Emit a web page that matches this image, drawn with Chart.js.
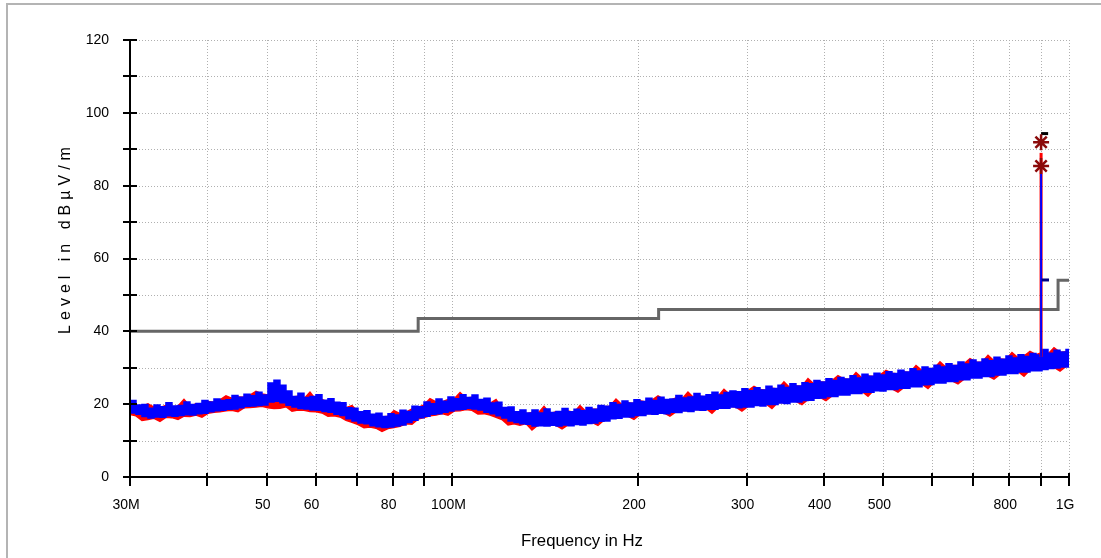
<!DOCTYPE html>
<html>
<head>
<meta charset="utf-8">
<script src="https://cdn.jsdelivr.net/npm/chart.js@4.4.1/dist/chart.umd.min.js"></script>
<style>
  html, body { margin: 0; padding: 0; background: #ffffff; }
  #wrap { width: 1101px; height: 558px; position: relative; }
</style>
</head>
<body>
<div id="wrap"><canvas id="c" width="1101" height="558"></canvas></div>
<script>
// ---------- DATA ----------
const freqMHz = [30.0,30.68,31.37,32.08,32.81,33.55,34.31,35.09,35.89,36.70,37.53,38.38,39.25,40.14,41.05,41.98,42.93,43.91,44.90,45.92,46.96,48.02,49.11,50.22,51.36,52.52,53.71,54.93,56.17,57.45,58.75,60.08,61.44,62.83,64.26,65.71,67.20,68.73,70.29,71.88,73.51,75.17,76.88,78.62,80.40,82.22,84.09,85.99,87.94,89.94,91.97,94.06,96.19,98.37,100.6,102.9,105.2,107.6,110.0,112.5,115.1,117.7,120.3,123.1,125.9,128.7,131.6,134.6,137.7,140.8,144.0,147.2,150.6,154.0,157.5,161.0,164.7,168.4,172.2,176.1,180.1,184.2,188.4,192.6,197.0,201.4,206.0,210.7,215.5,220.4,225.3,230.4,235.7,241.0,246.5,252.1,257.8,263.6,269.6,275.7,281.9,288.3,294.8,301.5,308.4,315.4,322.5,329.8,337.3,344.9,352.7,360.7,368.9,377.3,385.8,394.6,403.5,412.7,422.0,431.6,441.4,451.4,461.6,472.1,482.8,493.7,504.9,516.3,528.0,540.0,552.2,564.8,577.6,590.6,604.0,617.7,631.7,646.0,660.6,675.6,690.9,706.6,722.6,739.0,755.7,772.8,790.3,808.2,826.6,845.3,864.5,884.1,904.1,924.6,945.5,967.0,988.9,1000];

const blueHi = [21.0,19.8,19.9,18.9,19.8,19.3,20.4,19.5,19.6,20.6,19.9,20.2,21.0,20.6,21.4,21.0,21.2,22.4,21.9,22.7,22.3,23.3,22.5,25.8,26.6,25.2,23.6,22.1,23.0,21.8,22.1,22.6,21.1,21.5,20.5,20.4,19.0,18.9,17.9,18.2,17.2,17.5,16.6,17.4,17.0,18.3,18.0,19.4,19.3,20.6,20.1,21.4,20.8,22.0,21.5,22.6,21.8,22.5,21.3,21.6,20.3,20.5,19.1,19.2,17.9,18.4,17.6,18.4,17.6,18.7,17.7,18.0,18.8,17.9,18.6,18.2,19.1,18.6,19.6,19.4,20.4,19.9,20.9,20.3,21.2,20.7,21.6,21.0,21.9,21.3,21.4,22.4,21.7,22.0,22.9,22.2,22.6,23.3,22.5,23.2,23.6,23.4,24.2,23.7,24.5,23.9,24.9,24.3,25.2,24.6,25.6,25.0,25.9,25.6,26.5,26.1,27.0,26.5,27.3,26.9,27.8,27.2,28.2,27.7,28.5,28.0,28.9,28.4,29.3,28.8,29.7,29.1,30.2,29.8,30.7,30.2,31.1,30.6,31.6,31.0,32.1,31.5,32.4,31.9,32.9,32.3,33.2,32.7,33.6,33.1,33.9,33.5,35.0,34.0,34.8,34.3,35.0,34.6];
const blueLo = [17.6,17.2,16.6,16.2,16.5,16.4,16.8,16.7,16.9,17.1,17.0,17.4,17.5,17.9,18.2,18.3,18.6,18.7,19.0,19.4,19.5,19.6,19.8,20.6,20.8,20.4,19.7,19.2,18.8,18.7,18.4,18.3,18.0,17.8,17.2,16.9,16.0,15.4,14.8,14.6,14.1,13.8,13.6,13.7,14.0,14.3,15.0,15.6,16.3,16.7,17.2,17.4,17.8,18.1,18.5,18.6,18.9,18.7,18.4,17.8,17.4,16.8,16.2,15.4,15.0,14.6,14.5,14.0,14.1,14.0,14.2,14.0,14.3,14.1,14.4,14.3,14.7,14.8,15.3,15.4,16.0,16.1,16.5,16.5,16.9,16.9,17.3,17.2,17.5,17.4,17.8,17.7,18.1,18.0,18.4,18.3,18.6,18.6,18.9,18.9,19.2,19.0,19.2,19.2,19.6,19.5,19.9,19.9,20.3,20.2,20.6,20.6,21.0,21.1,21.6,21.7,22.1,22.1,22.5,22.5,22.9,22.9,23.3,23.3,23.7,23.6,24.0,24.0,24.4,24.4,24.8,24.8,25.3,25.4,25.8,25.8,26.2,26.2,26.7,26.7,27.2,27.2,27.6,27.6,28.0,28.0,28.4,28.4,28.8,28.8,29.2,29.2,29.5,29.8,29.9,30.2,30.2,30.4];

const redHi = [20.5,19.6,19.4,20.1,19.2,19.0,19.7,19.2,19.5,21.3,19.4,20.1,20.0,20.7,20.5,21.2,22.3,21.6,22.0,21.9,22.5,23.5,22.8,22.5,23.0,22.6,22.9,22.0,22.2,21.5,23.3,21.2,21.3,20.6,20.5,19.6,19.0,19.6,17.9,17.4,17.2,16.6,16.5,16.7,18.2,17.4,17.8,18.7,19.1,19.8,21.5,20.6,20.6,21.3,21.4,23.2,21.7,21.9,21.2,20.9,20.2,21.3,19.0,18.5,17.8,17.7,17.4,17.7,17.5,19.4,17.4,17.9,17.6,18.1,17.7,19.6,18.0,18.6,18.7,19.3,19.4,21.4,19.8,20.4,20.2,20.9,20.6,21.1,22.3,21.3,21.1,21.7,21.4,23.3,21.7,22.2,22.0,22.5,22.2,24.1,22.6,23.3,23.1,23.7,24.9,24.0,23.8,24.4,24.2,26.1,24.5,25.0,24.9,27.0,25.5,26.1,26.0,26.5,27.8,26.9,26.8,28.7,27.2,27.7,27.6,28.0,29.3,28.5,28.3,28.8,28.7,30.6,29.2,29.8,29.7,31.6,30.1,30.6,30.6,31.1,32.5,31.6,31.5,33.4,31.9,32.4,32.3,34.2,32.7,33.2,34.5,33.6,34.2,33.8,35.5,34.2,34.4,34.3];
const redLo = [17.2,16.8,15.5,15.8,16.1,15.3,16.4,16.3,15.8,16.7,16.6,17.0,16.4,17.5,17.8,17.9,18.2,18.3,17.9,19.0,19.1,19.2,19.4,19.0,18.8,18.9,19.3,18.1,18.4,18.3,18.0,17.9,17.6,16.7,16.8,16.5,15.6,15.0,14.4,13.5,13.7,13.4,12.5,13.3,13.6,13.9,14.6,14.5,15.9,16.3,16.8,17.0,17.4,17.0,18.1,18.2,18.5,18.3,17.3,17.4,17.0,16.4,15.8,14.3,14.6,14.2,14.7,12.9,14.3,14.2,14.4,14.2,13.2,14.3,14.6,14.5,14.9,15.0,14.2,15.6,16.2,16.3,16.7,16.7,15.8,17.1,17.5,17.4,17.7,17.6,16.7,17.9,18.3,18.2,18.6,18.5,18.8,17.5,19.1,19.1,19.4,19.2,18.1,19.4,19.8,19.7,20.1,18.8,20.5,20.4,20.8,20.8,19.9,21.3,21.8,21.9,21.0,22.3,22.7,22.7,23.1,23.1,23.5,22.2,23.9,23.8,24.2,24.2,23.3,24.6,25.0,25.0,25.5,24.3,26.0,26.0,26.4,26.4,25.6,26.9,27.4,27.4,27.8,27.8,26.9,28.2,28.6,28.6,29.0,27.7,29.4,29.4,29.7,30.0,30.1,29.1,30.4,30.6];

// Narrow emission at ~901 MHz
const spikeFreq = [901, 901];
const spikeBlue = [33, 84.5];
const spikeRed = [33, 89];
// Marker symbols (asterisks) at the spike
const markerFreq = [901, 901];
const markerVal = [91.9, 85.4];
// Small horizontal indicators right of the spike
const indBlackFreq = [901, 925];
const indBlackVal = [94.3, 94.3];
const indNavyFreq = [903, 928];
const indNavyVal = [54.1, 54.1];

// Limit line (step)
const limitFreq = [30, 88, 216, 960, 1000];
const limitVal = [40, 43.5, 46, 54, 54];

// Axes
const xTickValues = [30,40,50,60,70,80,90,100,200,300,400,500,600,700,800,900,1000];
const xTickLabels = {30:'30M',50:'50',60:'60',80:'80',100:'100M',200:'200',300:'300',400:'400',500:'500',800:'800',1000:'1G'};
const yTickValues = [0,10,20,30,40,50,60,70,80,90,100,110,120];
const yTickLabels = {0:'0',20:'20',40:'40',60:'60',80:'80',100:'100',120:'120'};
const yTitle = 'Level in dBµV/m';
const xTitle = 'Frequency in Hz';

// ---------- BUILD ----------
const pts = (xs, ys) => xs.map((x, i) => ({x: x, y: ys[i]}));

const framePlugin = {
  id: 'frame',
  beforeDraw(chart) {
    const ctx = chart.ctx;
    ctx.save();
    ctx.fillStyle = '#ffffff';
    ctx.fillRect(0, 0, chart.width, chart.height);
    ctx.strokeStyle = '#b4b4b4';
    ctx.lineWidth = 2;
    ctx.strokeRect(7, 4, 1110, 570);
    ctx.restore();
  },
  beforeDatasetsDraw(chart) {
    const ctx = chart.ctx, xs = chart.scales.x, ys = chart.scales.y;
    const a = chart.chartArea;
    ctx.save();
    ctx.strokeStyle = '#b0b0b0';
    ctx.lineWidth = 1;
    ctx.setLineDash([1, 2]);
    yTickValues.forEach(v => {
      if (v === 0) return;
      const y = Math.round(ys.getPixelForValue(v)) + 0.5;
      ctx.beginPath(); ctx.moveTo(a.left, y); ctx.lineTo(a.right, y); ctx.stroke();
    });
    xTickValues.forEach(v => {
      if (v === 30) return;
      const x = Math.round(xs.getPixelForValue(v)) + 0.5;
      ctx.beginPath(); ctx.moveTo(x, a.top); ctx.lineTo(x, a.bottom); ctx.stroke();
    });
    ctx.restore();
  },
  afterDatasetsDraw(chart) {
    const ctx = chart.ctx, xs = chart.scales.x, ys = chart.scales.y;
    ctx.save();
    ctx.strokeStyle = '#000000';
    ctx.lineWidth = 2;
    ctx.setLineDash([]);
    const x0 = Math.round(xs.getPixelForValue(30));
    const y0 = Math.round(ys.getPixelForValue(0));
    ctx.beginPath(); ctx.moveTo(x0, Math.round(ys.getPixelForValue(120))); ctx.lineTo(x0, y0 + 1); ctx.stroke();
    ctx.beginPath(); ctx.moveTo(x0 - 1, y0); ctx.lineTo(Math.round(xs.getPixelForValue(1000)), y0); ctx.stroke();
    yTickValues.forEach(v => {
      const y = Math.round(ys.getPixelForValue(v));
      ctx.beginPath(); ctx.moveTo(x0 - 7, y); ctx.lineTo(x0 + 7, y); ctx.stroke();
    });
    xTickValues.forEach(v => {
      const x = Math.round(xs.getPixelForValue(v));
      ctx.beginPath(); ctx.moveTo(x, y0 - 4); ctx.lineTo(x, y0 + 9); ctx.stroke();
    });
    // axis titles
    ctx.fillStyle = '#000000';
    ctx.textAlign = 'center';
    ctx.textBaseline = 'middle';
    ctx.save();
    ctx.font = '16px "Liberation Sans", Arial, sans-serif';
    ctx.translate(66, 238);
    ctx.rotate(-Math.PI / 2);
    try { ctx.letterSpacing = '5px'; } catch (e) {}
    ctx.fillText(yTitle, 0, 0);
    ctx.restore();
    ctx.save();
    try { ctx.letterSpacing = '0px'; } catch (e) {}
    ctx.font = '16px "Liberation Sans", Arial, sans-serif';
    const w = ctx.measureText(xTitle).width;
    ctx.translate(582, 542);
    ctx.scale(122 / w, 1);
    ctx.fillText(xTitle, 0, 0);
    ctx.restore();
    ctx.restore();
  }
};

const BLUE = '#0000ff', RED = '#ff0000';

new Chart(document.getElementById('c'), {
  type: 'line',
  data: {
    datasets: [
      { label: 'Limit', data: pts(limitFreq, limitVal), stepped: true, borderColor: '#666666', borderWidth: 3, pointRadius: 0, fill: false, order: 5 },
      { label: 'PK hi', data: pts(freqMHz, blueHi), stepped: true, borderColor: BLUE, borderWidth: 1.5, pointRadius: 0, fill: false, order: 8 },
      { label: 'PK lo', data: pts(freqMHz, blueLo), stepped: true, borderColor: BLUE, borderWidth: 1.5, pointRadius: 0, fill: '-1', backgroundColor: BLUE, order: 8 },
      { label: 'PK2 hi', data: pts(freqMHz, redHi), borderColor: RED, borderWidth: 1.5, pointRadius: 0, fill: false, order: 10 },
      { label: 'PK2 lo', data: pts(freqMHz, redLo), borderColor: RED, borderWidth: 1.5, pointRadius: 0, fill: '-1', backgroundColor: RED, order: 10 },
      { label: 'spike red', data: pts(spikeFreq, spikeRed), borderColor: RED, borderWidth: 3, pointRadius: 0, fill: false, order: 4 },
      { label: 'spike blue', data: pts(spikeFreq, spikeBlue), borderColor: BLUE, borderWidth: 2, pointRadius: 0, fill: false, order: 3 },
      { label: 'ind black', data: pts(indBlackFreq, indBlackVal), borderColor: '#000000', borderWidth: 3, pointRadius: 0, fill: false, order: 1 },
      { label: 'ind navy', data: pts(indNavyFreq, indNavyVal), borderColor: '#000080', borderWidth: 3, pointRadius: 0, fill: false, order: 1 },
      { label: 'markers', data: pts(markerFreq, markerVal), showLine: false, pointStyle: 'star', pointRadius: 8, pointBorderWidth: 2.5, pointBorderColor: '#8b0a0a', pointBackgroundColor: '#8b0a0a', order: 0 }
    ]
  },
  options: {
    responsive: false,
    animation: false,
    layout: { padding: { left: 0, right: 32, top: 40, bottom: 0 } },
    plugins: { legend: { display: false }, tooltip: { enabled: false }, title: { display: false } },
    elements: { line: { tension: 0 } },
    scales: {
      x: {
        type: 'logarithmic', min: 30, max: 1000,
        afterBuildTicks(scale) { scale.ticks = xTickValues.map(v => ({ value: v })); },
        afterFit(scale) { scale.height = 81; },
        grid: { display: false, drawTicks: false },
        border: { display: false },
        ticks: {
          autoSkip: false, maxRotation: 0, padding: 20, labelOffset: -4,
          color: '#000000', font: { family: '"Liberation Sans", Arial, sans-serif', size: 14 },
          callback: (v) => (xTickLabels[v] !== undefined ? xTickLabels[v] : '')
        }
      },
      y: {
        type: 'linear', min: 0, max: 120,
        afterBuildTicks(scale) { scale.ticks = yTickValues.map(v => ({ value: v })); },
        afterFit(scale) { scale.width = 130; },
        grid: { display: false, drawTicks: false },
        border: { display: false },
        ticks: {
          autoSkip: false, padding: 21,
          color: '#000000', font: { family: '"Liberation Sans", Arial, sans-serif', size: 14 },
          callback: (v) => (yTickLabels[v] !== undefined ? yTickLabels[v] : '')
        }
      }
    }
  },
  plugins: [framePlugin]
});
</script>
</body>
</html>
